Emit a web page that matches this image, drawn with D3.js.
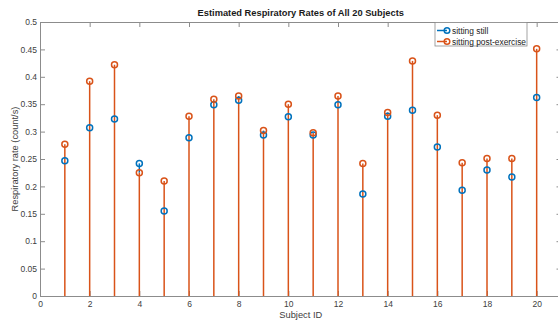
<!DOCTYPE html>
<html>
<head>
<meta charset="utf-8">
<script src="https://cdn.jsdelivr.net/npm/d3@7"></script>
<style>
  body { margin: 0; background: #fff; overflow: hidden; }
  text { font-family: "Liberation Sans", Arial, sans-serif; }
</style>
</head>
<body>
<div id="chart"></div>
<script>
// datos
const subjects = d3.range(1, 21);
const still = [0.247, 0.307, 0.323, 0.242, 0.155, 0.289, 0.349, 0.357, 0.294, 0.327,
  0.294, 0.349, 0.186, 0.328, 0.339, 0.272, 0.193, 0.230, 0.217, 0.362];
const postExercise = [0.277, 0.392, 0.422, 0.225, 0.210, 0.328, 0.359, 0.365, 0.302, 0.350,
  0.298, 0.365, 0.242, 0.335, 0.429, 0.330, 0.243, 0.251, 0.251, 0.451];
const xTicks = d3.range(0, 22, 2);
const yTicks = d3.range(0, 0.51, 0.05);
const seriesNames = ['sitting still', 'sitting post-exercise'];
const colors = ['#0072BD', '#D95319'];

const svgWidth = 558;
const svgHeight = 322;
const margin = { top: 22, right: -3.5, bottom: 26, left: 40 };
const width = svgWidth - margin.left - margin.right;
const height = svgHeight - margin.top - margin.bottom;
const axisColor = '#8c8c8c';
const textColor = '#404040';

const svg = d3.select('#chart')
  .append('svg')
  .attr('width', svgWidth)
  .attr('height', svgHeight)
  .append('g')
  .attr('transform', `translate(${margin.left},${margin.top})`);

const xScale = d3.scaleLinear().domain([0, 21]).range([0, width]);
const yScale = d3.scaleLinear().domain([0, 0.5]).range([height, 0]);

// ejes
svg.append('g')
  .attr('transform', `translate(0,${height})`)
  .call(d3.axisBottom(xScale).tickValues(xTicks).tickSize(-5).tickPadding(5).tickFormat(d3.format('d')));
svg.append('g')
  .call(d3.axisLeft(yScale).tickValues(yTicks).tickSize(-5).tickPadding(3).tickFormat(d => d3.format('')(+d.toFixed(2))));
svg.append('g')
  .call(d3.axisTop(xScale).tickValues(xTicks).tickSize(-5).tickFormat(''));
svg.append('g')
  .attr('transform', `translate(${width},0)`)
  .call(d3.axisRight(yScale).tickValues(yTicks).tickSize(-5).tickFormat(''));

svg.selectAll('.domain').attr('stroke', axisColor);
svg.selectAll('.tick line').attr('stroke', axisColor);
svg.selectAll('.tick text').attr('fill', textColor).style('font-size', '8.5px');

// tallos: el azul solo se ve donde supera al naranja
svg.append('g').selectAll('line')
  .data(still)
  .enter().append('line')
  .attr('x1', (d, j) => xScale(subjects[j]))
  .attr('x2', (d, j) => xScale(subjects[j]))
  .attr('y1', (d, j) => yScale(Math.min(d, postExercise[j])))
  .attr('y2', d => yScale(d))
  .attr('stroke', colors[0])
  .attr('stroke-width', 1.5);
svg.append('g').selectAll('line')
  .data(postExercise)
  .enter().append('line')
  .attr('x1', (d, j) => xScale(subjects[j]))
  .attr('x2', (d, j) => xScale(subjects[j]))
  .attr('y1', yScale(0))
  .attr('y2', d => yScale(d))
  .attr('stroke', colors[1])
  .attr('stroke-width', 1.5);

[still, postExercise].forEach((vals, i) => {
  svg.append('g').selectAll('circle')
    .data(vals)
    .enter().append('circle')
    .attr('cx', (d, j) => xScale(subjects[j]))
    .attr('cy', d => yScale(d))
    .attr('r', 3)
    .attr('fill', 'none')
    .attr('stroke', colors[i])
    .attr('stroke-width', 1.5);
});

// titulo
svg.append('text')
  .attr('x', xScale(10.5))
  .attr('y', -6)
  .attr('text-anchor', 'middle')
  .style('font-size', '9.3px')
  .style('font-weight', 'bold')
  .attr('fill', '#1a1a1a')
  .text('Estimated Respiratory Rates of All 20 Subjects');

svg.append('text')
  .attr('x', xScale(10.5))
  .attr('y', height + 22)
  .attr('text-anchor', 'middle')
  .style('font-size', '9.3px')
  .attr('fill', textColor)
  .text('Subject ID');

svg.append('text')
  .attr('transform', 'rotate(-90)')
  .attr('x', -height / 2)
  .attr('y', -22)
  .attr('text-anchor', 'middle')
  .style('font-size', '9.3px')
  .attr('fill', textColor)
  .text('Respiratory rate (count/s)');

// leyenda
const legend = svg.append('g').attr('transform', `translate(${435 - margin.left},${22.5 - margin.top})`);
legend.append('rect')
  .attr('width', 92).attr('height', 23.5)
  .attr('fill', '#fff').attr('stroke', axisColor).attr('stroke-width', 0.8);
seriesNames.forEach((name, i) => {
  const y = 8 + i * 11;
  legend.append('line')
    .attr('x1', 2).attr('x2', 12).attr('y1', y).attr('y2', y)
    .attr('stroke', colors[i]).attr('stroke-width', 1.5);
  legend.append('circle')
    .attr('cx', 12).attr('cy', y).attr('r', 2.8)
    .attr('fill', 'none').attr('stroke', colors[i]).attr('stroke-width', 1.5);
  legend.append('text')
    .attr('x', 17).attr('y', y + 3)
    .style('font-size', '8.4px')
    .attr('fill', '#1a1a1a')
    .text(name);
});
</script>
</body>
</html>
